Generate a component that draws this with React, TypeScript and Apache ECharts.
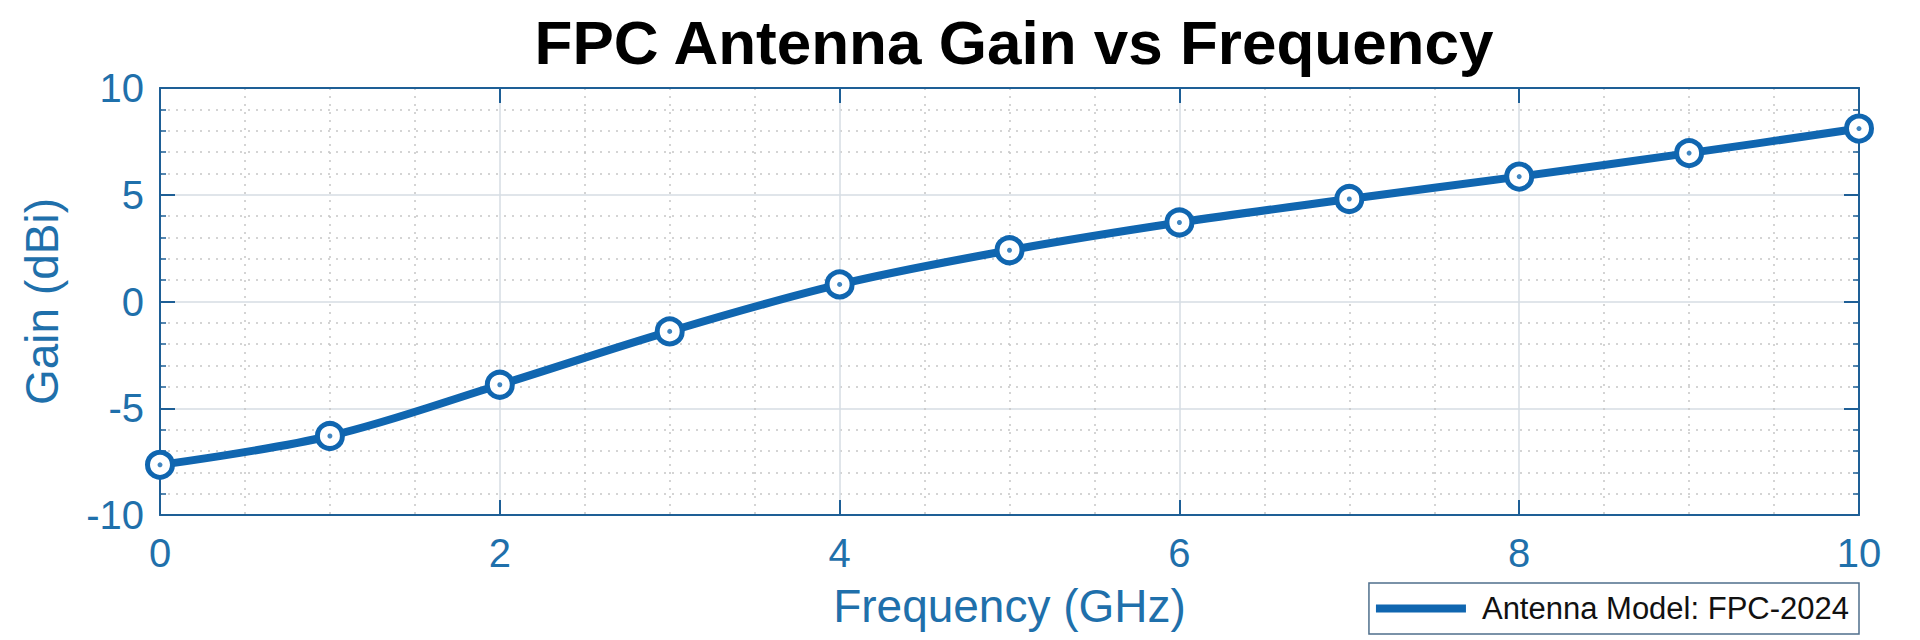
import React, { useEffect, useRef } from "react";
import * as echarts from "echarts";

const frequencies = [0, 1, 2, 3, 4, 5, 6, 7, 8, 9, 10];
const gains = [-7.65, -6.3, -3.9, -1.4, 0.8, 2.4, 3.7, 4.8, 5.85, 6.95, 8.1];
const seriesName = "Antenna Model: FPC-2024";
const titleText = "FPC Antenna Gain vs Frequency";
const xName = "Frequency (GHz)";
const yName = "Gain (dBi)";

const BLUE = "#1066b0";
const LABEL = "#1f70ab";
const FRAME = "#1e5f96";
const FONT = "'Liberation Sans', Arial, Helvetica, sans-serif";

export default function App() {
  const ref = useRef<HTMLDivElement>(null);
  useEffect(() => {
    if (!ref.current) return;
    const chart = echarts.init(ref.current, null, { renderer: "svg" });
    const pts = frequencies.map((f, i) => [f, gains[i]]);
    const baseX = {
      type: "value",
      min: 0,
      max: 10,
      interval: 2,
    };
    const baseY = {
      type: "value",
      min: -10,
      max: 10,
      interval: 5,
    };
    const line = { show: true, onZero: false, lineStyle: { color: FRAME, width: 2 } };
    const tick = { show: true, inside: true, length: 15, lineStyle: { color: FRAME, width: 2 } };
    chart.setOption({
      animation: false,
      backgroundColor: "#ffffff",
      title: {
        text: titleText,
        left: 1009,
        textAlign: "center",
        top: 6,
        textStyle: { fontFamily: FONT, fontSize: 62, fontWeight: "bold", color: "#000" },
      },
      grid: { left: 160, right: 61, top: 88, bottom: 125, containLabel: false },
      legend: {
        right: 61,
        top: 583,
        orient: "horizontal",
        data: [{ name: seriesName, icon: "rect", itemStyle: { color: BLUE, borderWidth: 0 } }],
        itemWidth: 90,
        itemHeight: 8,
        padding: [10, 10, 10, 7],
        borderColor: "#4f6f8c",
        borderWidth: 1.5,
        borderRadius: 0,
        backgroundColor: "#fff",
        textStyle: { fontFamily: FONT, fontSize: 31, color: "#111", padding: [0, 0, 0, 11] },
      },
      xAxis: [
        {
          ...baseX,
          position: "bottom",
          name: xName,
          nameLocation: "middle",
          nameGap: 68,
          nameTextStyle: { fontFamily: FONT, fontSize: 46, color: LABEL },
          axisLine: line,
          axisTick: tick,
          minorTick: { show: false, splitNumber: 4 },
          axisLabel: { fontFamily: FONT, fontSize: 40, color: LABEL, margin: 18 },
          splitLine: { show: true, lineStyle: { color: "#d6dce3", width: 1.5 } },
          minorSplitLine: { show: true, lineStyle: { color: "#c6c6c6", width: 1.5, type: [2, 6] } },
        },
        {
          ...baseX,
          position: "top",
          axisLine: line,
          axisTick: tick,
          axisLabel: { show: false },
          splitLine: { show: false },
        },
      ],
      yAxis: [
        {
          ...baseY,
          position: "left",
          name: yName,
          nameLocation: "middle",
          nameGap: 95,
          nameTextStyle: { fontFamily: FONT, fontSize: 46, color: LABEL },
          axisLine: line,
          axisTick: tick,
          minorTick: { show: true, splitNumber: 5, length: 6, lineStyle: { color: FRAME, width: 1.5 } },
          axisLabel: { fontFamily: FONT, fontSize: 40, color: LABEL, margin: 16 },
          splitLine: { show: true, lineStyle: { color: "#d6dce3", width: 1.5 } },
          minorSplitLine: { show: true, lineStyle: { color: "#c6c6c6", width: 1.5, type: [2, 6] } },
        },
        {
          ...baseY,
          position: "right",
          axisLine: line,
          axisTick: tick,
          minorTick: { show: true, splitNumber: 5, length: 6, lineStyle: { color: FRAME, width: 1.5 } },
          axisLabel: { show: false },
          splitLine: { show: false },
        },
      ],
      series: [
        {
          name: seriesName,
          type: "line",
          data: pts,
          smooth: 0.35,
          lineStyle: { color: BLUE, width: 8 },
          symbol: "circle",
          symbolSize: 25,
          itemStyle: { color: "#ffffff", borderColor: BLUE, borderWidth: 5 },
          z: 3,
        },
        {
          name: "centers",
          type: "scatter",
          data: pts,
          symbol: "circle",
          symbolSize: 5,
          itemStyle: { color: BLUE },
          z: 4,
          silent: true,
        },
      ],
    });
    return () => chart.dispose();
  }, []);
  return (
    <div
      ref={ref}
      style={{ position: "fixed", left: 0, top: 0, width: 1920, height: 640 }}
    />
  );
}
